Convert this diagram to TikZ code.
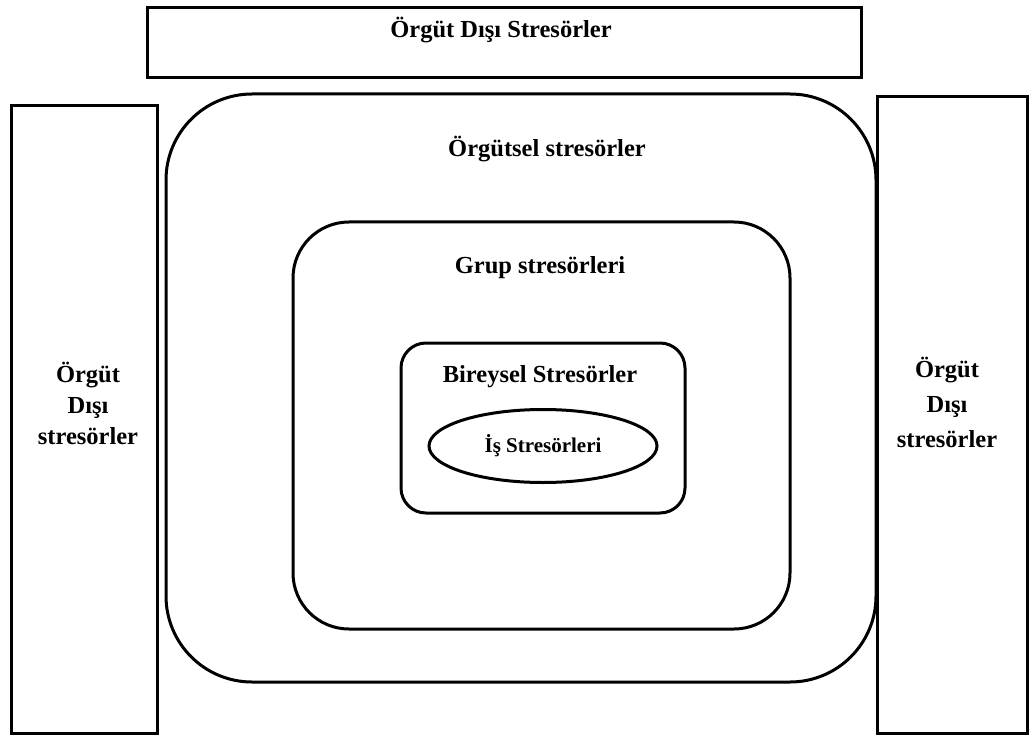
\documentclass[tikz,border=0pt]{standalone}
\usepackage{fontspec}
\setmainfont{Liberation Serif}
\usetikzlibrary{positioning,shapes.geometric}
\begin{document}
\begin{tikzpicture}[x=1pt,y=-1pt,line width=3pt]
        {

          \tikzstyle{kutu}=[rectangle,draw=black,inner sep=0pt]
          \tikzstyle{yuvarlak}=[kutu,rounded corners=#1]
          \tikzstyle{yazi}=[font=\fontsize{24.5}{31}\selectfont\bfseries,align=center,inner sep=0pt]
          \tikzstyle{kucukyazi}=[font=\fontsize{21}{24}\selectfont\bfseries,inner sep=0pt]
          \begin{scope}

            \useasboundingbox (0,0) rectangle (1032,735);

            \node [kutu,minimum width=714pt,minimum height=70pt] (dis) at (504,43) {};
            \node [kutu,minimum width=146pt,minimum height=627pt] (solkutu) at (84,419.5) {};
            \node [kutu,minimum width=150pt,minimum height=636pt] (sagkutu) at (952,415) {};

            \node [yuvarlak=86pt,minimum width=710pt,minimum height=588pt] (orgutsel) at (521,388) {};
            \node [yuvarlak=56pt,minimum width=497pt,minimum height=407pt] (grup) at (541.5,425.5) {};
            \node [yuvarlak=25pt,minimum width=284pt,minimum height=170pt] (bireysel) at (543,428) {};
            \node [ellipse,draw=black,inner sep=0pt,minimum width=228pt,minimum height=73pt,kucukyazi] (is) at (543,446) {İş Stresörleri};

            \node [yazi] (distext) at (501,30) {Örgüt Dışı Stresörler};
            \node [yazi] (orgutseltext) at (547,149) {Örgütsel stresörler};
            \node [yazi] (gruptext) at (540,268) {Grup stresörleri};
            \node [yazi] (bireyseltext) at (540,377) {Bireysel Stresörler};
            \node [yazi] (soltext) at (88,403) {Örgüt\\Dışı\\stresörler};
            \node [yazi,font=\fontsize{24.5}{35}\selectfont\bfseries] (sagtext) at (947,402) {Örgüt\\Dışı\\stresörler};

          \end{scope}
        }
\end{tikzpicture}
\end{document}
